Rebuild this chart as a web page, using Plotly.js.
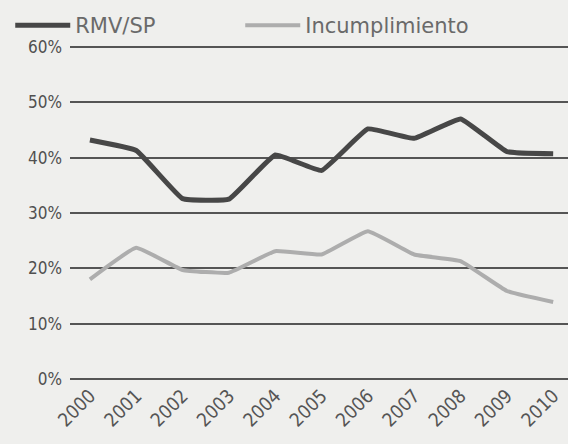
<!DOCTYPE html>
<html><head><meta charset="utf-8">
<script src="https://cdn.plot.ly/plotly-3.0.1.min.js"></script>
<style>html,body{margin:0;padding:0;background:#efefed;}#c{width:568px;height:444px;}</style>
</head><body><div id="c"></div>
<script>
const years = ['2000','2001','2002','2003','2004','2005','2006','2007','2008','2009','2010'];
const rmvSp = [43.2, 41.3, 32.6, 32.5, 40.5, 37.7, 45.2, 43.5, 47.0, 41.1, 40.7];
const incumplimiento = [18.0, 23.7, 19.7, 19.2, 23.1, 22.5, 26.7, 22.5, 21.3, 15.9, 13.9];
const yTicks = [0, 10, 20, 30, 40, 50, 60];
const yTickLabels = ['0%', '10%', '20%', '30%', '40%', '50%', '60%'];

const xs = years.map(Number);
const traces = [
  {x: xs, y: rmvSp, name: 'RMV/SP', type: 'scatter', mode: 'lines',
   line: {color: '#474747', width: 5, shape: 'spline', smoothing: 0.3}},
  {x: xs, y: incumplimiento, name: 'Incumplimiento', type: 'scatter', mode: 'lines',
   line: {color: '#adadad', width: 4, shape: 'spline', smoothing: 0.3}}
];
const layout = {
  width: 568, height: 444,
  paper_bgcolor: '#efefed', plot_bgcolor: '#efefed',
  margin: {l: 70, r: 0, t: 46, b: 64},
  font: {family: 'DejaVu Sans Condensed, DejaVu Sans, sans-serif', color: '#555'},
  showlegend: true,
  legend: {orientation: 'h', x: -0.12, xanchor: 'left', y: 1.0, yanchor: 'bottom',
           font: {size: 21, color: '#6a6a6a', family: 'DejaVu Sans, sans-serif'},
           bgcolor: 'rgba(0,0,0,0)', entrywidth: 160, entrywidthmode: 'pixels', itemwidth: 55},
  xaxis: {range: [1999.57, 2010.32], tickvals: xs, ticktext: years, tickangle: -45,
          showgrid: false, zeroline: false, showline: false, ticks: '',
          tickfont: {size: 19, color: '#555'}, fixedrange: true},
  yaxis: {range: [-0.2, 60.2], tickvals: yTicks, ticktext: yTickLabels,
          showgrid: true, gridcolor: '#555', gridwidth: 2, zeroline: false, showline: false,
          ticks: '', tickfont: {size: 17, color: '#505050'}, ticklabelstandoff: 7, fixedrange: true}
};
Plotly.newPlot('c', traces, layout, {displayModeBar: false, staticPlot: true});
</script></body></html>
